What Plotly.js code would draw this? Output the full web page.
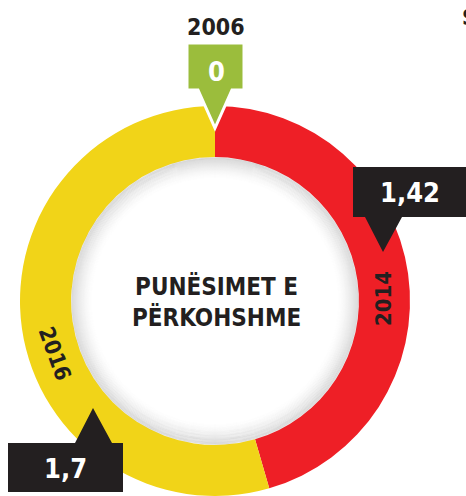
<!DOCTYPE html>
<html>
<head>
<meta charset="utf-8">
<script src="https://cdn.plot.ly/plotly-3.0.1.min.js"></script>
<style>
html,body{margin:0;padding:0;background:#fff;overflow:hidden;}
#chart{width:466px;height:496px;}
</style>
</head>
<body>
<div id="chart"></div>
<script>
// Data
var years = ['2006', '2014', '2016'];
var values = [0, 1.42, 1.7];
var valueLabels = ['0', '1,42', '1,7'];
var sliceColors = ['#9bbd3c', '#ee1f26', '#f1d418'];
var centerTitle = 'PUNËSIMET E<br>PËRKOHSHME';

var W = 466, H = 496;
function px(x) { return x / W; }
function py(y) { return 1 - y / H; }
function path(pts) {
  return 'M' + pts.map(function (p) { return px(p[0]) + ',' + py(p[1]); }).join(' L') + ' Z';
}

var FONT = 'DejaVu Sans Condensed, DejaVu Sans, sans-serif';
var dark = '#231f20';

var trace = {
  type: 'pie',
  labels: years,
  values: values,
  sort: false,
  direction: 'clockwise',
  rotation: 0,
  hole: 0.738,
  textinfo: 'none',
  hoverinfo: 'none',
  showlegend: false,
  marker: { colors: sliceColors, line: { width: 0 } },
  domain: { x: [20 / W, 410 / W], y: [0, 390 / H] }
};

var shapes = [];
// soft inner shadow of the hole
var cx = 215, cy = 301;
var N = 22;
for (var i = 0; i < N; i++) {
  var r = 143.2 - i * 1.0;
  var a = 0.11 * Math.pow(1 - i / N, 1.5);
  shapes.push({
    type: 'circle', xref: 'paper', yref: 'paper', layer: 'above',
    x0: px(cx - r), x1: px(cx + r), y0: py(cy + r), y1: py(cy - r),
    line: { color: 'rgba(0,0,0,' + a.toFixed(3) + ')', width: 1.4 },
    fillcolor: 'rgba(0,0,0,0)'
  });
}
// callouts
shapes.push({
  type: 'path', xref: 'paper', yref: 'paper', layer: 'above',
  path: path([[187, 43], [244, 43], [244, 90], [232, 90], [215, 128], [198, 90], [187, 90]]),
  fillcolor: sliceColors[0], line: { color: '#ffffff', width: 3 }
});
shapes.push({
  type: 'path', xref: 'paper', yref: 'paper', layer: 'above',
  path: path([[353, 167], [470, 167], [470, 217], [402, 217], [383, 252], [365, 217], [353, 217]]),
  fillcolor: dark, line: { width: 0 }
});
shapes.push({
  type: 'path', xref: 'paper', yref: 'paper', layer: 'above',
  path: path([[8, 443], [75, 443], [93, 408], [112, 443], [123, 443], [123, 492], [8, 492]]),
  fillcolor: dark, line: { width: 0 }
});

function ann(text, x, y, size, color, angle) {
  return {
    text: text, xref: 'paper', yref: 'paper', x: px(x), y: py(y),
    xanchor: 'center', yanchor: 'middle', showarrow: false,
    textangle: angle || 0,
    font: { family: FONT, size: size, color: color, weight: 'bold' }
  };
}

var annotations = [
  ann(years[0], 216, 27, 23, dark),
  ann(valueLabels[0], 216, 71, 27, '#ffffff'),
  ann(valueLabels[1], 410, 192, 27, '#ffffff'),
  ann(valueLabels[2], 65, 468, 27, '#ffffff'),
  ann(years[1], 383, 299, 22, dark, -90),
  ann(years[2], 55, 353, 22, dark, 70),
  {
    text: centerTitle, xref: 'paper', yref: 'paper', x: px(216), y: py(302),
    xanchor: 'center', yanchor: 'middle', showarrow: false, align: 'center',
    font: { family: FONT, size: 24, color: dark, weight: 'bold' }
  },
  {
    text: 'S', xref: 'paper', yref: 'paper', x: px(460), y: py(17),
    xanchor: 'left', yanchor: 'middle', showarrow: false,
    font: { family: FONT, size: 22, color: dark, weight: 'bold' }
  }
];

var layout = {
  width: W, height: H,
  margin: { l: 0, r: 0, t: 0, b: 0 },
  paper_bgcolor: '#ffffff',
  plot_bgcolor: '#ffffff',
  showlegend: false,
  shapes: shapes,
  annotations: annotations
};

Plotly.newPlot('chart', [trace], layout, { displayModeBar: false, staticPlot: true });
</script>
</body>
</html>
